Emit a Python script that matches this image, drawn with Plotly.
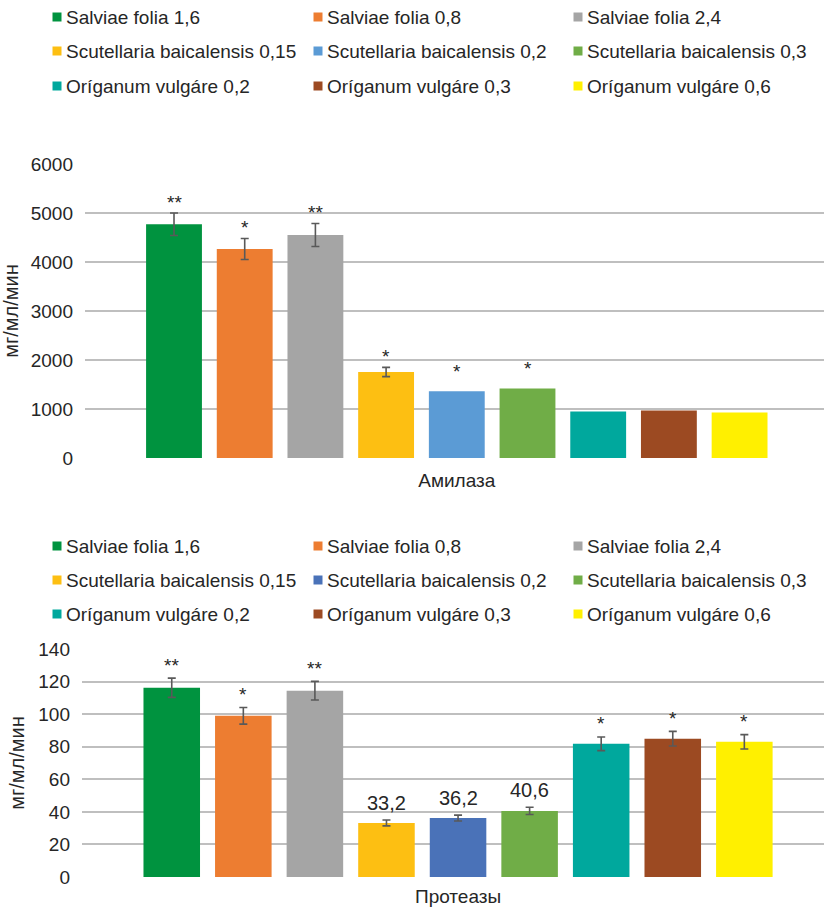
import plotly.graph_objects as go

# ---------------- data ----------------
series_names = [
    "Salviae folia 1,6", "Salviae folia 0,8", "Salviae folia 2,4",
    "Scutellaria baicalensis 0,15", "Scutellaria baicalensis 0,2", "Scutellaria baicalensis 0,3",
    "Oríganum vulgáre 0,2", "Oríganum vulgáre 0,3", "Oríganum vulgáre 0,6",
]
colors_top = ["#00933F", "#ED7D31", "#A5A5A5", "#FDBF12", "#5B9BD5", "#70AD47",
              "#00A89D", "#9C4A22", "#FFF000"]
colors_bottom = ["#00933F", "#ED7D31", "#A5A5A5", "#FDBF12", "#4A72B8", "#70AD47",
                 "#00A89D", "#9C4A22", "#FFF000"]

amylase_category = "Амилаза"
amylase_values = [4770, 4265, 4550, 1755, 1360, 1420, 950, 970, 930]
amylase_errors = [230, 215, 235, 95, 0, 0, 0, 0, 0]
amylase_labels = ["**", "*", "**", "*", "*", "*", "", "", ""]

protease_category = "Протеазы"
protease_values = [116.2, 99.0, 114.4, 33.2, 36.2, 40.6, 81.8, 84.9, 83.0]
protease_errors = [5.9, 5.1, 5.7, 1.8, 1.8, 2.2, 4.2, 4.5, 4.4]
protease_labels = ["**", "*", "**", "33,2", "36,2", "40,6", "*", "*", "*"]

y_title = "мг/мл/мин"
amylase_ticks = [0, 1000, 2000, 3000, 4000, 5000, 6000]
protease_ticks = [0, 20, 40, 60, 80, 100, 120, 140]

# ---------------- figure ----------------
W, H = 824, 910
FONT = "Liberation Sans, Arial, sans-serif"
TXT = "#262626"
ERR_COLOR = "#595959"
GRID = "#BFBFBF"

fig = go.Figure()


def add_panel(values, errors, colors, xref, yref):
    for i, (name, v, e, c) in enumerate(zip(series_names, values, errors, colors)):
        fig.add_trace(go.Bar(
            x=[i], y=[v], name=name, width=0.79,
            marker=dict(color=c, line=dict(width=0)),
            error_y=dict(type="data", array=[e], visible=e > 0,
                         color=ERR_COLOR, thickness=1.6, width=4),
            xaxis=xref, yaxis=yref, showlegend=False,
        ))


add_panel(amylase_values, amylase_errors, colors_top, "x", "y")
add_panel(protease_values, protease_errors, colors_bottom, "x2", "y2")

annotations = []
shapes = []

# value / significance labels
for i, (v, e, lab) in enumerate(zip(amylase_values, amylase_errors, amylase_labels)):
    if lab:
        annotations.append(dict(
            x=i, y=v + e, xref="x", yref="y", text=lab, showarrow=False,
            yanchor="middle", yshift=(11 if e > 0 else 20),
            font=dict(family=FONT, size=19, color=TXT)))
for i, (v, e, lab) in enumerate(zip(protease_values, protease_errors, protease_labels)):
    is_star = lab.startswith("*")
    annotations.append(dict(
        x=i, y=v + e, xref="x2", yref="y2", text=lab, showarrow=False,
        yanchor="middle", yshift=(13 if is_star else 17),
        font=dict(family=FONT, size=(19 if is_star else 20), color=TXT)))


# hand-laid legends (3 columns x 3 rows) above each panel
def add_legend(colors, row_centers_px):
    col_x = [57, 318, 578]
    for k, (name, c) in enumerate(zip(series_names, colors)):
        cx = col_x[k % 3]
        cy = row_centers_px[k // 3]
        shapes.append(dict(type="rect", xref="paper", yref="paper",
                           x0=(cx - 4.5) / W, x1=(cx + 4.5) / W,
                           y0=1 - (cy + 4.5) / H, y1=1 - (cy - 4.5) / H,
                           fillcolor=c, line=dict(width=0)))
        annotations.append(dict(
            x=(cx + 7) / W, y=1 - cy / H, xref="paper", yref="paper",
            text=name, showarrow=False, xanchor="left", yanchor="middle",
            font=dict(family=FONT, size=19, color=TXT)))


add_legend(colors_top, [17, 51, 86])
add_legend(colors_bottom, [546, 580, 614])


def px_y(top, bottom):
    return [1 - bottom / H, 1 - top / H]


axis_common = dict(showline=False, zeroline=False, ticks="", automargin=False,
                   tickfont=dict(family=FONT, size=19, color=TXT))

fig.update_layout(
    template="none",
    width=W, height=H,
    margin=dict(l=0, r=0, t=0, b=0, pad=0),
    paper_bgcolor="white", plot_bgcolor="white",
    barmode="overlay",
    showlegend=False,
    font=dict(family=FONT, color=TXT),
    xaxis=dict(domain=[85 / W, 1], range=[-1.259, 9.194],
               tickvals=[4], ticktext=[amylase_category], showgrid=False,
               ticklabelstandoff=9, anchor="y", **axis_common),
    yaxis=dict(domain=px_y(164, 458), range=[0, 6000], tickvals=amylase_ticks,
               showgrid=True, gridcolor=GRID, gridwidth=1.6,
               ticklabelstandoff=11, anchor="x",
               title=dict(text=y_title, font=dict(family=FONT, size=20, color=TXT), standoff=8),
               **axis_common),
    xaxis2=dict(domain=[82 / W, 1], range=[-1.254, 9.113],
                tickvals=[4], ticktext=[protease_category], showgrid=False,
                ticklabelstandoff=6, anchor="y2", **axis_common),
    yaxis2=dict(domain=px_y(649, 877), range=[0, 140], tickvals=protease_ticks,
                showgrid=True, gridcolor=GRID, gridwidth=1.6,
                ticklabelstandoff=11, anchor="x2",
                title=dict(text=y_title, font=dict(family=FONT, size=20, color=TXT), standoff=8),
                **axis_common),
    annotations=annotations,
    shapes=shapes,
)

fig.write_html("out.html")
